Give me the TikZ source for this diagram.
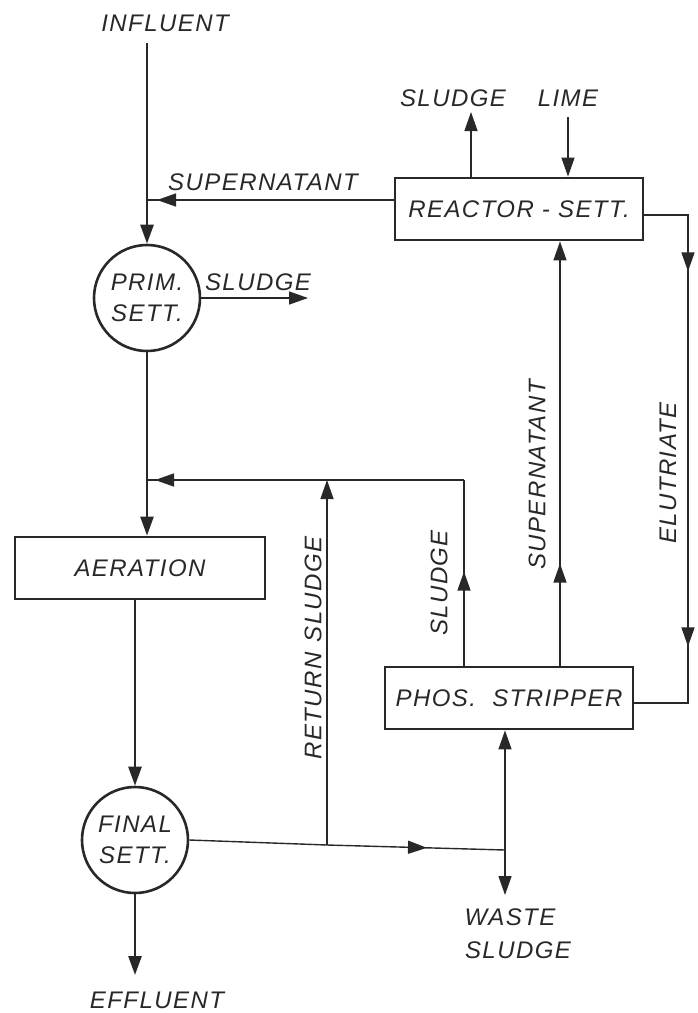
\documentclass[tikz,border=0pt]{standalone}
\usepackage{fontspec}
\usepackage{xcolor}
\usepackage{tikz}
\usetikzlibrary{arrows.meta,decorations.markings}
\newfontfamily\hand[LetterSpace=6]{Liberation Sans}
\definecolor{ink}{RGB}{40,40,40}

\begin{document}
\begin{tikzpicture}[x=1pt, y=1pt, >={Triangle[length=19pt,width=13pt]},
  flow/.style={ink, line width=1.4pt},
  mainflow/.style={ink, line width=2.6pt},
  unit/.style={draw=ink, line width=2.8pt, minimum width=248pt, minimum height=62pt, inner sep=0pt},
  tank/.style={draw=ink, line width=2.6pt, circle, minimum size=106pt, inner sep=0pt, align=center},
  lbl/.style={text=ink, font=\hand\itshape\fontsize{24}{31}\selectfont},
  markat/.style={postaction={decorate, decoration={markings, mark=at position #1 with {\arrow{>}}}}}]
  \useasboundingbox (0,0) rectangle (698,-1013);

  % Units
  \node[tank, lbl] (prim) at (147,-298) {PRIM.\\SETT.};
  \node[unit, lbl, minimum width=250pt] (aer) at (140,-568) {AERATION};
  \node[tank, lbl] (final) at (135,-840) {FINAL\\SETT.};
  \node[unit, lbl] (reactor) at (519,-209) {REACTOR - SETT.};
  \node[unit, lbl] (stripper) at (509,-698) {PHOS.\ \ STRIPPER};

  % Free ends and junctions
  \coordinate (infl) at (147,-43);
  \coordinate (jsup) at (147,-200);
  \coordinate (jret) at (147,-480);
  \coordinate (psl) at (308,-298);
  \coordinate (eff) at (135,-975);
  \coordinate (jfin) at (327,-845);
  \coordinate (jtop) at (327,-480);
  \coordinate (jsl) at (464,-480);
  \coordinate (xsup) at (560,0);
  \coordinate (jwas) at (505,-850);
  \coordinate (waste) at (505,-895);
  \coordinate (rsl) at (471,-112);
  \coordinate (lime) at (568,-117);
  \coordinate (elu1) at (688,-215);
  \coordinate (elu2) at (688,-703);

  % Main line
  \draw[mainflow, ->] (infl) -- (prim.north);
  \draw[mainflow, ->] (prim.south) -- (prim.south |- aer.north);
  \draw[mainflow, ->] (aer.south -| final.north) -- (final.north);
  \draw[mainflow, ->] (final.south) -- (eff);
  \draw[flow, ->] (prim.east) -- (psl);

  % Supernatant back to primary
  \draw[flow, markat=-10pt] (reactor.west |- jsup) -- (jsup);

  % Return sludge and waste
  \draw[flow] (final.east) -- (jfin);
  \draw[flow, markat=100pt] (jfin) -- (jwas);
  \draw[flow, ->] (jfin) -- (jtop);
  \draw[flow, markat=-8pt] (jsl) -- (jret);
  \draw[flow, ->] (jwas) -- (stripper.south -| jwas);
  \draw[flow, ->] (jwas) -- (waste);

  % Stripper loop
  \draw[flow, markat=94pt] (stripper.north -| jsl) -- (jsl);
  \draw[flow, markat=102pt, ->] (stripper.north -| xsup) -- (reactor.south -| xsup);
  \draw[flow, markat=100pt, markat=475pt]
    (reactor.east |- elu1) -- (elu1) -- (elu2) -- (stripper.east |- elu2);
  \draw[flow, ->] (reactor.north -| rsl) -- (rsl);
  \draw[flow, ->] (lime) -- (reactor.north -| lime);

  % Labels
  \node[lbl] (influent) at (165,-23) {INFLUENT};
  \node[lbl] (effluent) at (157,-1000) {EFFLUENT};
  \node[lbl] (supl) at (263,-182) {SUPERNATANT};
  \node[lbl] (psll) at (258,-282) {SLUDGE};
  \node[lbl] (rsll) at (453,-98) {SLUDGE};
  \node[lbl] (limel) at (568,-98) {LIME};
  \node[lbl, rotate=90] (supv) at (537,-475) {SUPERNATANT};
  \node[lbl, rotate=90] (elul) at (668,-473) {ELUTRIATE};
  \node[lbl, rotate=90] (ssll) at (439,-583) {SLUDGE};
  \node[lbl, rotate=90] (retl) at (313,-648) {RETURN\hspace{10pt}SLUDGE};
  \node[lbl] (wastel) at (510,-917) {WASTE};
  \node[lbl] (wsll) at (518,-950) {SLUDGE};
\end{tikzpicture}
\end{document}
